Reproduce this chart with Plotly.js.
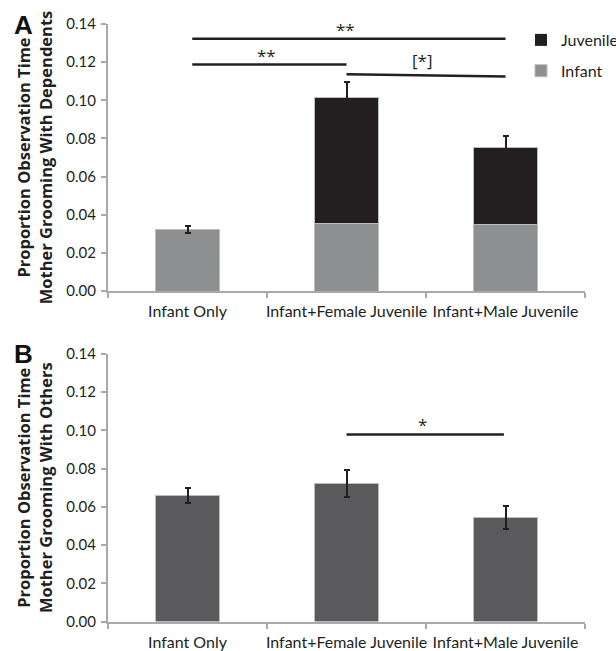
<!DOCTYPE html>
<html>
<head>
<meta charset="utf-8">
<script src="https://cdn.plot.ly/plotly-3.0.1.min.js"></script>
<style>html,body{margin:0;padding:0;background:#fff;}#chart{width:616px;height:651px;}</style>
</head>
<body>
<div id="chart"></div>
<script>
// ---- data ----
var categories = ['Infant Only', 'Infant+Female Juvenile', 'Infant+Male Juvenile'];
// Panel A: grooming with dependents (stacked); error bars are on the stack total
var infantA = [0.0323, 0.0354, 0.0347];
var juvenileA = [0, 0.0661, 0.0406];
var totalAErr = [0.0018, 0.0082, 0.0060];
// Panel B: grooming with others
var othersB = [0.0659, 0.0721, 0.0545];
var othersBErr = [0.0038, 0.0070, 0.0059];
// significance brackets (category index from/to, level, label)
var sigAFrom = [0.03, 0.03, 1.0];
var sigATo = [2.0, 1.0, 2.0];
var sigALevel0 = [0.1323, 0.1187, 0.1137];
var sigALevel1 = [0.1323, 0.1187, 0.1125];
var sigALabel = ['**', '**', '[*]'];
var sigBFrom = [1.0];
var sigBTo = [1.99];
var sigBLevel = [0.0979];
var sigBLabel = ['*'];
var yTicks = [0, 0.02, 0.04, 0.06, 0.08, 0.10, 0.12, 0.14];
var yTickText = ['0.00', '0.02', '0.04', '0.06', '0.08', '0.10', '0.12', '0.14'];

// ---- styles ----
var dark = '#231f20';
var axisGray = '#a9a9a9';
var edgeColor = '#bcbcbc';
var font = 'Lato, "Open Sans", sans-serif';
var titleFont = '"Open Sans", Lato, sans-serif';
var edge = {color: edgeColor, width: 1};
function err(arr) {
  return {type: 'data', array: arr, visible: true, color: dark, thickness: 2, width: 3};
}
var juvEdge = juvenileA.map(function (v) { return v > 0 ? edgeColor : 'rgba(0,0,0,0)'; });

var traces = [
  {type: 'bar', x: categories, y: infantA, name: 'Infant', xaxis: 'x', yaxis: 'y',
   marker: {color: '#8e8f91', line: edge},
   legendgroup: 'i', legendrank: 2, hoverinfo: 'skip'},
  {type: 'bar', x: categories, y: juvenileA, name: 'Juvenile', xaxis: 'x', yaxis: 'y',
   marker: {color: dark, line: {color: juvEdge, width: 1}}, error_y: err(totalAErr),
   legendgroup: 'j', legendrank: 1, hoverinfo: 'skip'},
  {type: 'bar', x: categories, y: othersB, name: 'Others', xaxis: 'x2', yaxis: 'y2',
   marker: {color: '#5a5a5c', line: edge}, error_y: err(othersBErr),
   showlegend: false, hoverinfo: 'skip'}
];

var shapes = [];
var annotations = [];
var starFont = {family: titleFont, size: 17, color: dark};
for (var i = 0; i < sigALabel.length; i++) {
  shapes.push({type: 'line', xref: 'x', yref: 'y', x0: sigAFrom[i], x1: sigATo[i],
    y0: sigALevel0[i], y1: sigALevel1[i], line: {color: dark, width: 2.5}});
  annotations.push({xref: 'x', yref: 'y', x: (sigAFrom[i] + sigATo[i]) / 2 - 0.02,
    y: Math.max(sigALevel0[i], sigALevel1[i]), text: sigALabel[i], showarrow: false,
    yanchor: 'bottom', yshift: sigALabel[i] === '[*]' ? 0 : -4, font: starFont});
}
for (var k = 0; k < sigBLabel.length; k++) {
  shapes.push({type: 'line', xref: 'x2', yref: 'y2', x0: sigBFrom[k], x1: sigBTo[k],
    y0: sigBLevel[k], y1: sigBLevel[k], line: {color: dark, width: 2.5}});
  annotations.push({xref: 'x2', yref: 'y2', x: (sigBFrom[k] + sigBTo[k]) / 2 - 0.02,
    y: sigBLevel[k], text: sigBLabel[k], showarrow: false, yanchor: 'bottom', yshift: -4,
    font: starFont});
}
annotations.push({xref: 'paper', yref: 'paper', x: 12 / 616, y: 1 - 8 / 651, xanchor: 'left', yanchor: 'top',
  text: 'A', showarrow: false, font: {family: '"Liberation Sans", Arial, sans-serif', size: 26, weight: 'bold', color: '#111'}});
annotations.push({xref: 'paper', yref: 'paper', x: 12 / 616, y: 1 - 337 / 651, xanchor: 'left', yanchor: 'top',
  text: 'B', showarrow: false, font: {family: '"Liberation Sans", Arial, sans-serif', size: 26, weight: 'bold', color: '#111'}});

function xAxis(anchor) {
  return {domain: [108 / 616, 585 / 616], anchor: anchor, type: 'category',
    range: [-0.5, 2.5], showline: true, linecolor: axisGray, linewidth: 2,
    ticks: 'outside', tickson: 'boundaries', ticklen: 5, tickcolor: axisGray, tickwidth: 2,
    tickangle: 0, tickfont: {family: font, size: 16, color: dark}, ticklabelstandoff: 5,
    showgrid: false, zeroline: false, fixedrange: true, automargin: false};
}
function yAxis(anchor, dom, titleText) {
  return {domain: dom, anchor: anchor, range: [0, 0.14], showline: true, linecolor: axisGray, linewidth: 2,
    ticks: 'outside', ticklen: 5, tickcolor: axisGray, tickwidth: 2,
    tickvals: yTicks, ticktext: yTickText, ticklabelstandoff: 2,
    tickfont: {family: font, size: 15, color: dark}, showgrid: false, zeroline: false,
    title: {text: titleText, standoff: 10, font: {family: titleFont, size: 16.5, weight: 'bold', color: dark}},
    fixedrange: true, automargin: false};
}

var layout = {
  width: 616, height: 651, margin: {l: 0, r: 0, t: 0, b: 0, autoexpand: false},
  paper_bgcolor: '#fff', plot_bgcolor: '#fff',
  barmode: 'stack', bargap: 0.6,
  showlegend: true,
  legend: {x: 521 / 616, y: 1 - 23 / 651, xanchor: 'left', yanchor: 'top',
    traceorder: 'grouped', tracegroupgap: 7, bgcolor: 'rgba(0,0,0,0)',
    font: {family: font, size: 16, color: dark}},
  xaxis: xAxis('y'),
  yaxis: yAxis('x', [1 - 291 / 651, 1 - 24 / 651], 'Proportion Observation Time<br>Mother Grooming With Dependents'),
  xaxis2: xAxis('y2'),
  yaxis2: yAxis('x2', [1 - 621.5 / 651, 1 - 354 / 651], 'Proportion Observation Time<br>Mother Grooming With Others'),
  shapes: shapes,
  annotations: annotations
};

Plotly.newPlot('chart', traces, layout, {staticPlot: true, displayModeBar: false});
</script>
</body>
</html>
